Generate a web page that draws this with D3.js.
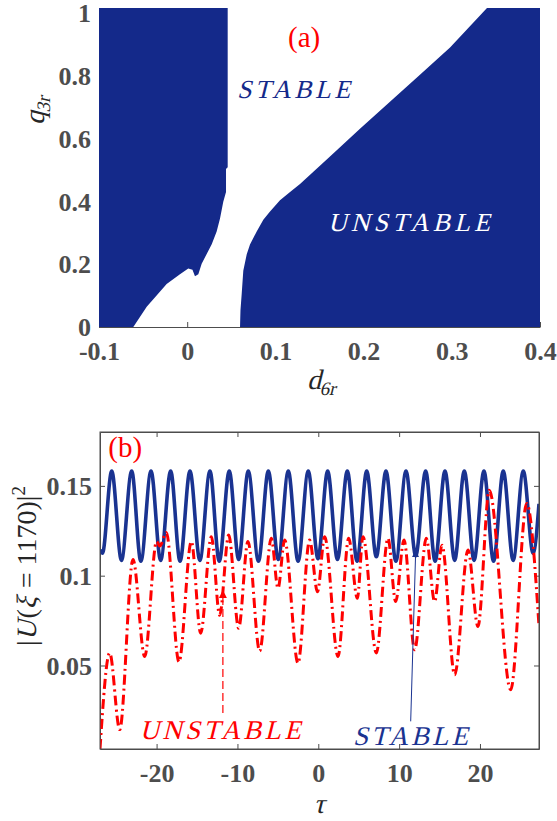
<!DOCTYPE html>
<html>
<head>
<meta charset="utf-8">
<script src="https://cdn.jsdelivr.net/npm/d3@7"></script>
<style>
  body { margin: 0; background: #fff; }
  svg { display: block; }
  svg text { font-family: "Liberation Serif", "Times New Roman", serif; }
</style>
</head>
<body>
<script>

// ---- panel (a) data : stability regions in the (d6r, q3r) plane ----
var dTicks = [-0.1, 0, 0.1, 0.2, 0.3, 0.4];
var qTicks = [0, 0.2, 0.4, 0.6, 0.8, 1];

// left blue region (outline, [d6r, q3r])
var leftRegion = [
  [-0.1, 1.014], [0.0459, 1.014], [0.0459, 0.508], [0.044, 0.502], [0.044, 0.429],
  [0.0409, 0.398], [0.0372, 0.345], [0.0334, 0.304], [0.0278, 0.263],
  [0.0221, 0.232], [0.0164, 0.201], [0.0126, 0.168], [0.0088, 0.161],
  [0.006, 0.182], [0.0012, 0.186], [-0.0082, 0.168], [-0.0233, 0.137],
  [-0.0459, 0.064], [-0.0611, 0], [-0.1, 0]
];

// right blue region
var rightRegion = [
  [0.0599, 0], [0.0604, 0.053], [0.0618, 0.106], [0.0636, 0.179],
  [0.0675, 0.231], [0.0712, 0.262], [0.0788, 0.304], [0.0863, 0.341],
  [0.0939, 0.367], [0.1052, 0.403], [0.1166, 0.429], [0.1279, 0.455],
  [0.1619, 0.542], [0.1959, 0.630], [0.2299, 0.716], [0.2639, 0.802],
  [0.298, 0.889], [0.3399, 1.014], [0.4, 1.014], [0.4, 0]
];

// ---- panel (b) data : |U(xi=1170)|^2 versus tau ----
var tauTicks = [-20, -10, 0, 10, 20];
var uTicks = [0.05, 0.1, 0.15];

var stableTau = [-27.0, -26.7, -25.55, -24.35, -23.08, -21.95, -20.69, -19.5, -18.26, -17.1,
  -15.87, -14.65, -13.4, -12.25, -11.01, -9.85, -8.66, -7.4, -6.18, -4.95, -3.71, -2.5,
  -1.24, -0.04, 1.16, 2.37, 3.59, 4.8, 5.99, 7.18, 8.37, 9.6, 10.85, 12.05, 13.28, 14.45,
  15.67, 16.87, 18.06, 19.27, 20.49, 21.68, 22.88, 24.1, 25.36, 26.57, 27.3];
var stableU = [0.1145, 0.1125, 0.1583, 0.1085, 0.1583, 0.108, 0.1583, 0.1085, 0.1583, 0.108,
  0.1583, 0.1085, 0.1583, 0.108, 0.1583, 0.109, 0.1583, 0.108, 0.1583, 0.109, 0.1583, 0.108,
  0.1583, 0.1095, 0.1583, 0.109, 0.1583, 0.108, 0.1583, 0.1105, 0.1583, 0.108, 0.1583, 0.111,
  0.1583, 0.108, 0.1583, 0.1085, 0.1583, 0.1085, 0.1583, 0.108, 0.1583, 0.1085, 0.1583,
  0.1125, 0.140];

var unstableTau = [-27.0, -25.8, -24.56, -22.92, -21.47, -20.0, -19.6, -18.8, -17.23, -15.7,
  -14.55, -13.23, -12.2, -11.08, -9.85, -8.7, -7.25, -5.81, -4.98, -4.16, -2.51, -1.07,
  -0.1, 0.79, 2.44, 3.76, 4.83, 5.53, 7.18, 8.62, 9.57, 10.6, 11.92, 13.36, 14.39, 15.3,
  16.87, 18.52, 19.75, 21.15, 23.8, 25.78, 27.3];
var unstableU = [0.0035, 0.057, 0.0143, 0.109, 0.055, 0.119, 0.1165, 0.124, 0.052, 0.119,
  0.068, 0.1217, 0.078, 0.1226, 0.0707, 0.119, 0.058, 0.1208, 0.093, 0.1198, 0.0513, 0.1198,
  0.091, 0.1217, 0.055, 0.1208, 0.0874, 0.1217, 0.057, 0.1208, 0.0856, 0.1198, 0.0587,
  0.1208, 0.0856, 0.117, 0.0448, 0.1143, 0.0717, 0.1476, 0.0365, 0.1402, 0.072];

// annotation arrows [tau, U]
var unstableArrow = [[-11.8, 0.0236], [-11.8, 0.092]];
var stableArrow = [[11.43, 0.0189], [12.05, 0.1143]];


var blue = "#14298a";
	lineBlue = "#1a3391";
	red = "#ff0000";
	axisGray = "#4d4d4d";
	slant = -14;		// no serif italic face installed, so slant the upright one

var svg = d3.select("body").append("svg")
	.attr("width", 557)
	.attr("height", 821)

// arrow heads
var defs = svg.append("defs");
defs.append("marker")
	.attr("id", "headRed")
	.attr("markerUnits", "userSpaceOnUse")
	.attr("viewBox", "0 0 10 10")
	.attr("refX", 10).attr("refY", 5)
	.attr("markerWidth", 9).attr("markerHeight", 8)
	.attr("orient", "auto")
	.append("path").attr("d", "M0,0L10,5L0,10Z").attr("fill", red);
defs.append("marker")
	.attr("id", "headBlue")
	.attr("markerUnits", "userSpaceOnUse")
	.attr("viewBox", "0 0 10 10")
	.attr("refX", 10).attr("refY", 5)
	.attr("markerWidth", 8).attr("markerHeight", 7)
	.attr("orient", "auto")
	.append("path").attr("d", "M0,0L10,5L0,10Z").attr("fill", lineBlue);

function styleAxis(g){
	g.attr("font-size", 26)
		.attr("font-weight", "bold")
		.attr("color", axisGray);
	g.selectAll("path, line").attr("stroke-width", 1);
}

//slanted (fake italic) text at x,y
function italic(parent, x, y, str, size, fill){
	return parent.append("text")
		.attr("transform", "translate(" + x + "," + y + ") skewX(" + slant + ")")
		.attr("font-size", size)
		.attr("fill", fill)
		.text(str);
}

/* ================= panel (a) ================= */
var xA = d3.scaleLinear().domain([-0.1, 0.4]).range([99, 540]);
	yA = d3.scaleLinear().domain([0, 1]).range([327, 12.5]);

var gA = svg.append("g");

gA.append("g")
	.attr("transform", "translate(0," + yA(0) + ")")
	.call(d3.axisBottom(xA).tickValues(dTicks).tickSizeInner(-5).tickSizeOuter(0)
		.tickFormat(function(d){ return String(d); }))
	.call(styleAxis)
	.call(function(g){ g.selectAll("text").attr("y", 33).attr("dy", 0); });

gA.append("g")
	.attr("transform", "translate(" + xA(-0.1) + ",0)")
	.call(d3.axisLeft(yA).tickValues(qTicks).tickSizeInner(-5).tickSizeOuter(0)
		.tickFormat(function(d){ return String(d); }))
	.call(styleAxis)
	.call(function(g){ g.selectAll("text").attr("x", -8).attr("dy", "0.34em"); });

var outline = d3.line()
	.x(function(p){ return xA(p[0]); })
	.y(function(p){ return yA(p[1]); });

gA.append("path").attr("d", outline(leftRegion) + "Z").attr("fill", blue);
gA.append("path").attr("d", outline(rightRegion) + "Z").attr("fill", blue);

gA.append("text")
	.attr("x", xA(0.1143)).attr("y", yA(0.89))
	.attr("font-size", 29).attr("fill", red)
	.text("(a)");

italic(gA, xA(0.0565), yA(0.727), "STABLE", 26, blue)
	.attr("textLength", 113).attr("lengthAdjust", "spacing");

italic(gA, xA(0.1596), yA(0.304), "UNSTABLE", 26, "#fff")
	.attr("textLength", 162).attr("lengthAdjust", "spacing");

// axis titles
var dLab = italic(gA, 322, 389, "", 28, "#262626").attr("text-anchor", "middle");
dLab.append("tspan").text("d");
dLab.append("tspan").attr("font-size", 19).attr("dy", 6).text("6r");

var qLab = gA.append("text")
	.attr("transform", "translate(44,110) rotate(-90) skewX(" + slant + ")")
	.attr("text-anchor", "middle")
	.attr("font-size", 28)
	.attr("fill", "#262626");
qLab.append("tspan").text("q");
qLab.append("tspan").attr("font-size", 19).attr("dy", 6).text("3r");

/* ================= panel (b) ================= */
var xB = d3.scaleLinear().domain([-27, 27.3]).range([100, 539]);
	yB = d3.scaleLinear().domain([0.0035, 0.18]).range([749, 432]);

var gB = svg.append("g");

defs.append("clipPath").attr("id", "clipB")
	.append("rect")
	.attr("x", xB(-27)).attr("y", yB(0.18))
	.attr("width", xB(27.3) - xB(-27)).attr("height", yB(0.0035) - yB(0.18));

gB.append("g")
	.attr("transform", "translate(0," + yB(0.0035) + ")")
	.call(d3.axisBottom(xB).tickValues(tauTicks).tickSizeInner(-5).tickSizeOuter(0)
		.tickFormat(function(d){ return String(d); }))
	.call(styleAxis)
	.call(function(g){ g.selectAll("text").attr("y", 33).attr("dy", 0); });

gB.append("g")
	.attr("transform", "translate(0," + yB(0.18) + ")")
	.call(d3.axisTop(xB).tickValues(tauTicks).tickSizeInner(-5).tickSizeOuter(0).tickFormat(""))
	.call(styleAxis);

gB.append("g")
	.attr("transform", "translate(" + xB(-27) + ",0)")
	.call(d3.axisLeft(yB).tickValues(uTicks).tickSizeInner(-5).tickSizeOuter(0)
		.tickFormat(function(d){ return String(d); }))
	.call(styleAxis)
	.call(function(g){ g.selectAll("text").attr("x", -8).attr("dy", "0.34em"); });

gB.append("g")
	.attr("transform", "translate(" + xB(27.3) + ",0)")
	.call(d3.axisRight(yB).tickValues(uTicks).tickSizeInner(-5).tickSizeOuter(0).tickFormat(""))
	.call(styleAxis);

var stableData = stableTau.map(function(t, i){ return [t, stableU[i]]; });
var unstableData = unstableTau.map(function(t, i){ return [t, unstableU[i]]; });

var curve = d3.line()
	.x(function(p){ return xB(p[0]); })
	.y(function(p){ return yB(p[1]); })
	.curve(d3.curveMonotoneX);

var lines = gB.append("g").attr("clip-path", "url(#clipB)");

lines.append("path")
	.attr("d", curve(stableData))
	.attr("fill", "none")
	.attr("stroke", lineBlue)
	.attr("stroke-width", 3.6);

lines.append("path")
	.attr("d", curve(unstableData))
	.attr("fill", "none")
	.attr("stroke", red)
	.attr("stroke-width", 3)
	.attr("stroke-dasharray", "10,4,2,4");

// annotation arrows
var straight = d3.line()
	.x(function(p){ return xB(p[0]); })
	.y(function(p){ return yB(p[1]); });

gB.append("path")
	.attr("d", straight(unstableArrow))
	.attr("stroke", red).attr("stroke-width", 1.2)
	.attr("stroke-dasharray", "8,4")
	.attr("fill", "none")
	.attr("marker-end", "url(#headRed)");

gB.append("path")
	.attr("d", straight(stableArrow))
	.attr("stroke", lineBlue).attr("stroke-width", 1)
	.attr("fill", "none")
	.attr("marker-end", "url(#headBlue)");

gB.append("text")
	.attr("x", xB(-25.97)).attr("y", yB(0.166))
	.attr("font-size", 29).attr("fill", red)
	.text("(b)");

italic(gB, xB(-22.09), yB(0.0089), "UNSTABLE", 27, red)
	.attr("textLength", 161).attr("lengthAdjust", "spacing");

italic(gB, xB(4.29), yB(0.006), "STABLE", 27, lineBlue)
	.attr("textLength", 115).attr("lengthAdjust", "spacing");

// box
gB.append("rect")
	.attr("x", xB(-27)).attr("y", yB(0.18))
	.attr("width", xB(27.3) - xB(-27)).attr("height", yB(0.0035) - yB(0.18))
	.attr("fill", "none").attr("stroke", axisGray).attr("stroke-width", 1);

// axis titles
italic(gB, 319, 813, "τ", 28, "#262626").attr("text-anchor", "middle");

//y label built piece by piece so only U and xi are slanted
var uParts = [
	{t: "|", it: false, size: 28, dy: 0},
	{t: "U", it: true, size: 28, dy: 0},
	{t: "(", it: false, size: 28, dy: 0},
	{t: "ξ", it: true, size: 28, dy: 0},
	{t: " = 1170)|", it: false, size: 28, dy: 0},
	{t: "2", it: false, size: 19, dy: -11}
];
var uLab = gB.append("g").attr("transform", "translate(36,566) rotate(-90)");
var cursor = 0;
uParts.forEach(function(p){
	var t = uLab.append("text")
		.attr("font-size", p.size)
		.attr("fill", "#262626")
		.attr("xml:space", "preserve")
		.style("white-space", "pre")
		.text(p.t);
	t.attr("transform", "translate(" + cursor + "," + p.dy + ")" + (p.it ? " skewX(" + slant + ")" : ""));
	cursor += t.node().getComputedTextLength() + (p.it ? 1.5 : 0);
});
uLab.selectAll("text").each(function(){
	var el = d3.select(this);
	el.attr("transform", el.attr("transform").replace(/translate\(([-\d.e]+),/, function(m, x){
		return "translate(" + (+x - cursor / 2) + ",";
	}));
});

</script>
</body>
</html>
